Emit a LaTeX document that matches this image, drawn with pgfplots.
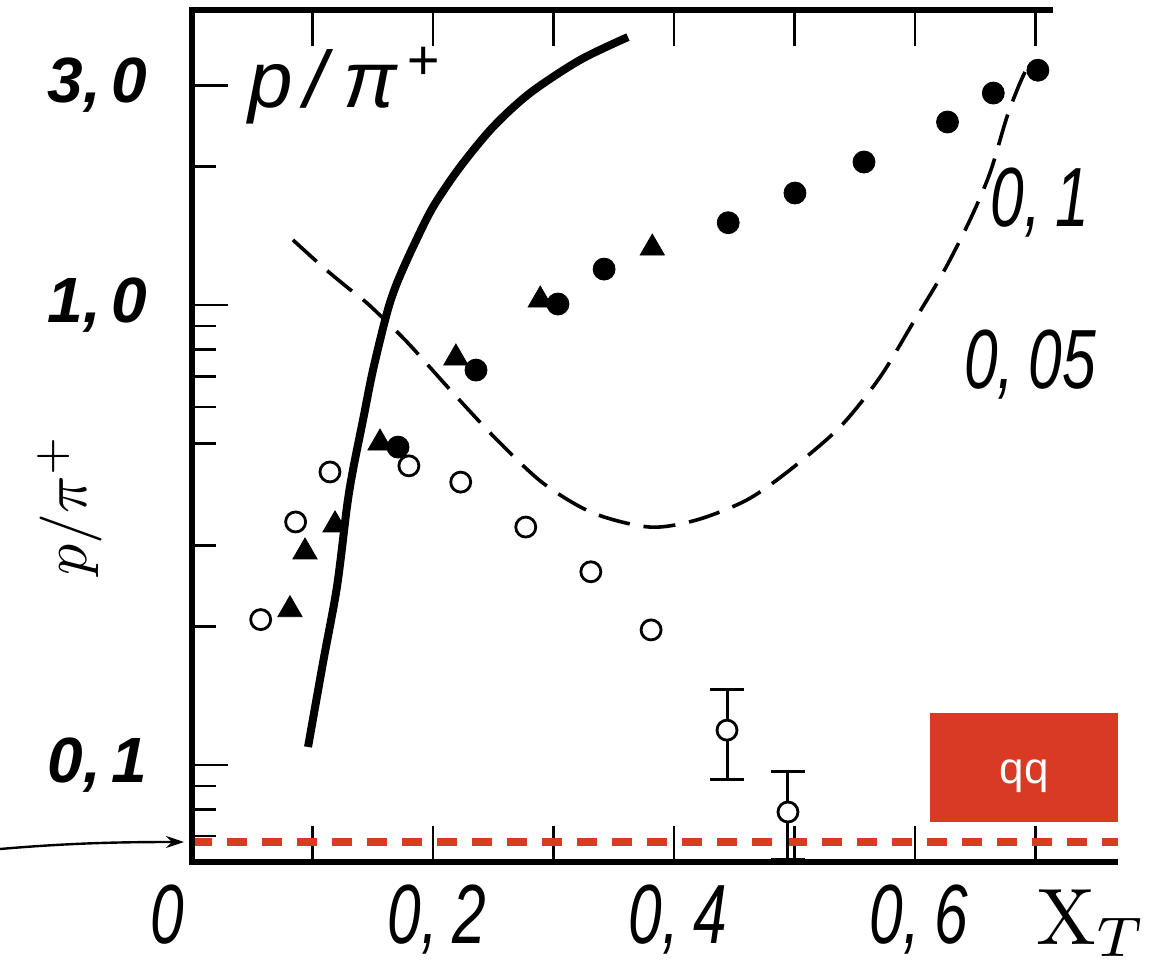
\documentclass[border=0pt]{standalone}
\usepackage{pgfplots}
\pgfplotsset{compat=1.18}
\usepackage{fontspec}
\usetikzlibrary{arrows.meta}
\newfontfamily\ylab{Liberation Sans}
\newfontfamily\xlab[FakeStretch=0.72]{Liberation Sans}
\definecolor{qqred}{HTML}{D93A26}
\begin{document}
\begin{tikzpicture}
\useasboundingbox (0,0) rectangle (576pt,-486.5pt);
\begin{axis}[
  at={(96pt,-431pt)}, anchor=south west,
  scale only axis, width=463pt, height=426pt,
  xmin=0, xmax=0.7685, ymin=0.0615, ymax=4.38, ymode=log,
  axis line style={draw=none},
  xtick={0,0.1,0.2,0.3,0.4,0.5,0.6,0.7},
  xticklabels={{\llap{0\hspace{6pt}}},{},{0,\,2},{},{0,\,4},{},{0,\,6},{}},
  ytick={0.1,1,3}, yticklabels={{0,\,1},{1,\,0},{3,\,0}},
  minor ytick={0.07,0.08,0.09,0.2,0.3,0.5,0.6,0.7,0.8,0.9,2},
  xtick pos=both, ytick pos=left,
  tick align=inside,
  major tick length=18pt, minor tick length=12pt,
  every tick/.style={black, line width=1.3pt},
  xticklabel style={font=\xlab\itshape\fontsize{42}{42}\selectfont, inner sep=0pt, anchor=north, yshift=-11pt, xshift=2pt},
  yticklabel style={font=\ylab\bfseries\itshape\fontsize{32}{32}\selectfont, inner sep=0pt, anchor=east, xshift=-22pt},
  clip=false,
]
% red reference line
\addplot[qqred, line width=4pt, dash pattern=on 10pt off 7.5pt] coordinates {(0,0.068) (0.7685,0.068)};
% solid curve
\addplot[black, line width=4pt, smooth] coordinates {
(0.0963,0.1094) (0.1087,0.1667) (0.1203,0.2438) (0.1286,0.364) (0.1336,0.438)
(0.1419,0.562) (0.1502,0.722) (0.1618,0.961) (0.1701,1.116) (0.1834,1.337)
(0.2,1.633) (0.2224,1.995) (0.2498,2.438) (0.2805,2.89) (0.322,3.41) (0.3618,3.825)};
% dashed curve
\addplot[black, line width=1.8pt, dash pattern=on 16pt off 7pt, smooth] coordinates {
(0.0838,1.385) (0.1087,1.209) (0.1286,1.094) (0.1452,1.010) (0.1643,0.905)
(0.1809,0.818) (0.2166,0.644) (0.2531,0.509) (0.2913,0.410) (0.3328,0.353)
(0.380,0.329) (0.419,0.341) (0.4606,0.377) (0.4963,0.438) (0.5378,0.543)
(0.571,0.697) (0.5983,0.914) (0.6232,1.174) (0.6456,1.530) (0.6622,1.936)
(0.6763,2.563) (0.6871,3.038) (0.6954,3.375)};
% open circles
\addplot[only marks, mark=*, mark size=5pt, mark options={fill=white, draw=black, line width=1.4pt}] coordinates {
(0.057,0.207) (0.086,0.3375) (0.1145,0.4335) (0.180,0.447) (0.223,0.412)
(0.277,0.329) (0.331,0.263) (0.381,0.1966)};
\addplot[only marks, mark=*, mark size=5pt, mark options={fill=white, draw=black, line width=1.4pt},
  error bars/.cd, y dir=both, y explicit,
  error bar style={line width=1.5pt, black},
  error mark options={rotate=90, mark size=8.5pt, line width=1.5pt, black}] coordinates {
(0.444,0.119) += (0,0.0266) -= (0,0.0262)
(0.4946,0.079) += (0,0.0176) -= (0,0.0166)};
% filled triangles
\addplot[only marks, mark=triangle*, mark size=7pt, mark options={fill=black, draw=black}] coordinates {
(0.0813,0.2175) (0.0938,0.2904) (0.1187,0.3325) (0.156,0.501) (0.219,0.767)
(0.289,1.025) (0.382,1.33)};
% filled circles
\addplot[only marks, mark=*, mark size=5.5pt, mark options={fill=black, draw=black}] coordinates {
(0.171,0.491) (0.2357,0.722) (0.3037,1.005) (0.342,1.197) (0.445,1.51)
(0.5004,1.752) (0.5577,2.046) (0.627,2.50) (0.665,2.89) (0.702,3.24)};
% frame
\draw[line width=2.8pt] (rel axis cs:0.93,1) -- (rel axis cs:0,1) -- (rel axis cs:0,0) -- (rel axis cs:1,0);
\end{axis}
% labels
\node[anchor=base west, inner sep=0pt, font=\ylab\itshape\fontsize{40}{40}\selectfont] at (124pt,-54pt)
  {p\hspace{0.15em}/\hspace{0.2em}π\raisebox{14pt}{\fontsize{28}{28}\selectfont\,+}};
\node[inner sep=0pt, font=\xlab\itshape\fontsize{42}{42}\selectfont] at (520pt,-101.5pt) {0,\,1};
\node[inner sep=0pt, font=\xlab\itshape\fontsize{42}{42}\selectfont] at (515pt,-182.5pt) {0,\,05};
\node[rotate=90, inner sep=0pt] at (35pt,-252.5pt) {\scalebox{3.1}{$p/\pi^+$}};
\node[anchor=base west, inner sep=0pt] at (518pt,-472pt) {\scalebox{4.0}{$\mathrm{X}_{T}$}};
\fill[qqred] (465pt,-356.5pt) rectangle (559pt,-411pt);
\node[anchor=base, inner sep=0pt, text=white, font=\ylab\fontsize{22}{22}\selectfont] at (512pt,-391.5pt) {qq};
\draw[-{Stealth[length=9pt,width=6pt]}, line width=1.2pt] (0pt,-424.5pt) .. controls (35pt,-421.5pt) and (60pt,-421pt) .. (92pt,-421pt);
\end{tikzpicture}
\end{document}
